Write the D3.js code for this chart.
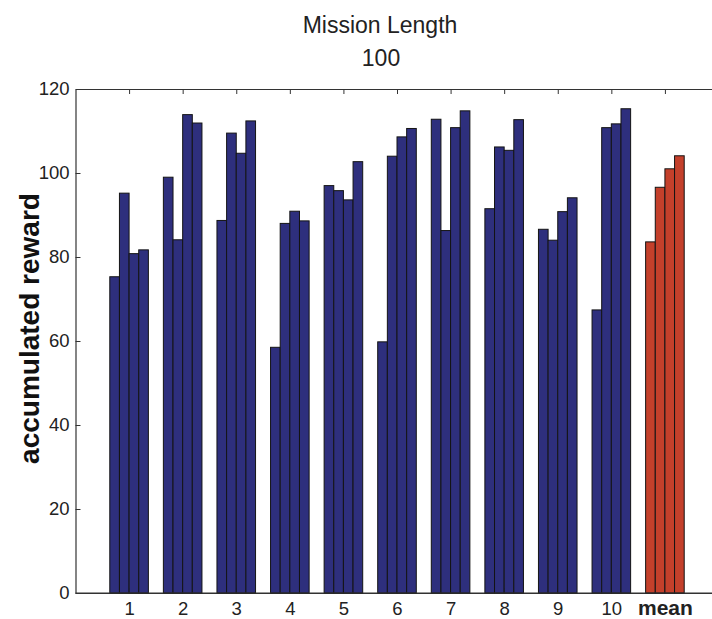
<!DOCTYPE html>
<html>
<head>
<meta charset="utf-8">
<script src="https://cdn.jsdelivr.net/npm/d3@7"></script>
<style>
  html, body { margin: 0; padding: 0; background: #fff; }
  svg { display: block; }
  text { font-family: "Liberation Sans", Arial, Helvetica, sans-serif; }
</style>
</head>
<body>
<svg id="chart" width="712" height="619"></svg>
<script>
// Accumulated reward per mission (four runs each), plus the mean over missions
const categories = ["1", "2", "3", "4", "5", "6", "7", "8", "9", "10", "mean"];
const run1 = [75.3, 99.0, 88.7, 58.5, 97.0, 59.8, 112.8, 91.5, 86.6, 67.4, 83.6];
const run2 = [95.2, 84.1, 109.5, 88.0, 95.8, 104.0, 86.3, 106.2, 84.0, 110.8, 96.6];
const run3 = [80.8, 113.9, 104.7, 90.9, 93.6, 108.6, 110.8, 105.4, 90.8, 111.7, 101.0];
const run4 = [81.7, 111.9, 112.4, 88.6, 102.7, 110.6, 114.8, 112.7, 94.1, 115.3, 104.1];
const yTicks = [0, 20, 40, 60, 80, 100, 120];
const titleLines = ["Mission Length", "100"];
const yLabel = "accumulated reward";

const runs = [run1, run2, run3, run4];
const svg = d3.select("#chart");

const plotLeft = 75.5, plotRight = 718.5, plotTop = 89, plotBottom = 593;

const x = d3.scaleLinear().domain([0, categories.length + 1]).range([plotLeft, plotRight]);
const y = d3.scaleLinear().domain([0, 120]).range([plotBottom, plotTop]);

const groupWidth = 0.72;
const barW = groupWidth / runs.length;

// Bottom axis: inward ticks, category labels
const xAxis = svg.append("g")
  .attr("transform", `translate(0,${plotBottom})`)
  .call(d3.axisBottom(x)
    .tickValues(d3.range(1, categories.length + 1))
    .tickFormat(i => categories[i - 1])
    .tickSize(-5).tickSizeOuter(0).tickPadding(9));
xAxis.selectAll("text")
  .attr("font-size", 18.5)
  .attr("fill", "#222");
xAxis.selectAll("text")
  .filter(i => categories[i - 1] === "mean")
  .attr("font-size", 21)
  .attr("font-weight", "bold")
  .attr("dy", "0.6em");

// Bars
const bars = [];
categories.forEach((c, gi) => {
  runs.forEach((r, ri) => {
    bars.push({ g: gi + 1, r: ri, v: r[gi], mean: c === "mean" });
  });
});
svg.append("g").selectAll("rect").data(bars).join("rect")
  .attr("x", d => x(d.g + (d.r - runs.length / 2) * barW))
  .attr("width", d => x(barW) - x(0))
  .attr("y", d => y(d.v))
  .attr("height", d => y(0) - y(d.v))
  .attr("fill", d => d.mean ? "#c4402b" : "#2e2f7d")
  .attr("stroke", "#141414")
  .attr("stroke-width", 1);

// Top axis line with downward ticks
svg.append("g")
  .attr("transform", `translate(0,${plotTop})`)
  .call(d3.axisTop(x)
    .tickValues(d3.range(1, categories.length + 1))
    .tickFormat("")
    .tickSize(-5).tickSizeOuter(0));

// Left axis with inward ticks
const yAxis = svg.append("g")
  .attr("transform", `translate(${plotLeft},0)`)
  .call(d3.axisLeft(y).tickValues(yTicks).tickSize(-5).tickSizeOuter(0).tickPadding(6));
yAxis.selectAll("text").attr("font-size", 18.5).attr("fill", "#222");

// Bottom baseline drawn over the bars
svg.append("line")
  .attr("x1", plotLeft).attr("x2", plotRight)
  .attr("y1", plotBottom).attr("y2", plotBottom)
  .attr("stroke", "#333").attr("stroke-width", 1.2);

svg.selectAll(".domain").attr("stroke", "#333").attr("stroke-width", 1.2);
svg.selectAll(".tick line").attr("stroke", "#333");

// Title
svg.append("text")
  .attr("x", 380).attr("y", 33)
  .attr("text-anchor", "middle").attr("font-size", 23).attr("fill", "#222")
  .text(titleLines[0]);
svg.append("text")
  .attr("x", 381).attr("y", 66)
  .attr("text-anchor", "middle").attr("font-size", 23).attr("fill", "#222")
  .text(titleLines[1]);

// Y axis label
svg.append("text")
  .attr("transform", `translate(39,${(192 + 465) / 2}) rotate(-90)`)
  .attr("text-anchor", "middle").attr("font-size", 28).attr("font-weight", "bold")
  .attr("fill", "#111")
  .text(yLabel);
</script>
</body>
</html>
